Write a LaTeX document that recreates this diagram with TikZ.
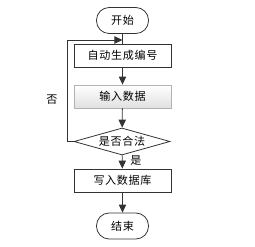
\documentclass[tikz,border=0pt]{standalone}
\usepackage{fontspec}
\newfontfamily\cjk[LetterSpace=6]{Noto Sans CJK SC}
\usetikzlibrary{arrows.meta,shapes.geometric,shadows}
\begin{document}
\begin{tikzpicture}[x=0.75pt,y=-0.75pt,
  every node/.style={font=\cjk\fontsize{8.3}{10}\selectfont},
  term/.style={draw=black!80,rounded corners=9.5pt,minimum width=52*0.75pt,minimum height=26*0.75pt,inner sep=0pt,line width=0.6pt},
  proc/.style={draw=black!80,minimum width=97*0.75pt,minimum height=23*0.75pt,inner sep=0pt,line width=0.6pt},
  proc2/.style={draw=black!30,top color=white,bottom color=black!12,minimum width=97*0.75pt,minimum height=23*0.75pt,inner sep=0pt,line width=0.6pt,drop shadow={shadow xshift=0.6pt,shadow yshift=-0.6pt,opacity=0.25}},
  dec/.style={draw=black!80,diamond,aspect=3.6,minimum width=96*0.75pt,minimum height=27*0.75pt,inner sep=0pt,line width=0.6pt},
  conn/.style={draw=black!80,line width=0.6pt},
  arr/.style={conn,-{Triangle[length=6pt,width=5.5pt]}},
  lbl/.style={inner sep=0pt}
]
\useasboundingbox (0,0) rectangle (255,247);
\node[term] (start) at (122.5,20.5) {开始};
\node[proc] (p1) at (122.5,55.5) {自动生成编号};
\node[proc2] (p2) at (122.5,96.5) {输入数据};
\node[dec] (d) at (122,141.5) {是否合法};
\node[proc] (p3) at (122.5,180.5) {写入数据库};
\node[term] (end) at (122.5,226) {结束};
\coordinate (j) at (122.5,40);
\coordinate (l1) at (67,141.5);
\coordinate (l2) at (67,40);
\draw[conn] (start) -- (p1);
\draw[arr] (p1) -- (p2);
\draw[arr] (p2) -- (d);
\draw[arr] (d) -- (p3);
\draw[arr] (p3) -- (end);
\draw[arr] (d.west) -- (l1) -- (l2) -- (j);
\node[lbl] (no) at (52,100) {否};
\node[lbl] (yes) at (136,160.5) {是};
\end{tikzpicture}
\end{document}
